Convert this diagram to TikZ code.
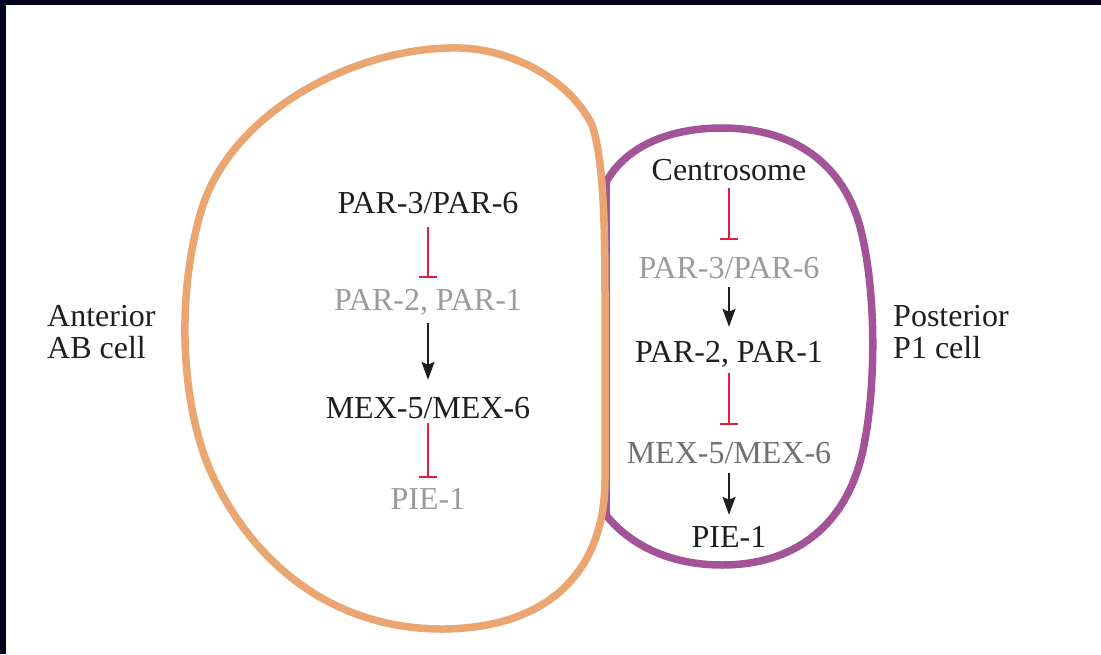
\documentclass[tikz,border=0pt]{standalone}
\usepackage{fontspec}
\setmainfont{Liberation Serif}
\newfontfamily\cellfont{Liberation Serif}
\usetikzlibrary{arrows.meta}
\definecolor{framecol}{RGB}{3,2,28}
\definecolor{abcol}{RGB}{235,165,113}
\definecolor{pcol}{RGB}{163,83,152}
\definecolor{inhib}{RGB}{228,30,62}
\definecolor{txtdark}{RGB}{30,30,30}
\definecolor{txtgray}{RGB}{155,155,155}
\definecolor{txtmid}{RGB}{112,112,112}
\tikzset{
  lbl/.style={inner sep=0pt, font=\cellfont\fontsize{32}{32}\selectfont, text height=21pt, text depth=0pt, anchor=base},
  on/.style={lbl, text=txtdark},
  off/.style={lbl, text=txtgray},
  offmid/.style={lbl, text=txtmid},
  side/.style={inner sep=0pt, font=\cellfont\fontsize{32}{32}\selectfont, text=txtdark, anchor=base west},
  inhibits/.style={draw=inhib, line width=2pt, -{Bar[width=18pt,line width=2pt]}, shorten <=10pt, shorten >=12pt},
  activates/.style={draw=txtdark, line width=1.5pt, -{Stealth[length=18pt,width=13pt,inset=3pt]}, shorten <=11pt, shorten >=14pt},
  cellwall/.style={line width=7.5pt}
}
\begin{document}
\begin{tikzpicture}[x=1pt,y=-1pt]
\useasboundingbox (0,0) rectangle (1101,654);
\fill[white] (0,0) rectangle (1101,654);
\fill[framecol] (0,0) rectangle (1101,5);
\fill[framecol] (0,0) rectangle (6,654);
% posterior P1 cell
\draw[pcol, cellwall] (606,182) .. controls (630,140) and (680,128) .. (722,128)
  .. controls (800,128) and (848,170) .. (862,235)
  .. controls (876,295) and (876,385) .. (864,445)
  .. controls (850,520) and (800,565) .. (722,565)
  .. controls (670,565) and (630,545) .. (606,515) -- cycle;
% anterior AB cell
\draw[abcol, cellwall] (450,48) .. controls (510,46) and (570,80) .. (592,125)
  .. controls (604,160) and (605,230) .. (605,300)
  -- (605,480)
  .. controls (605,560) and (560,627) .. (445,629)
  .. controls (330,630) and (250,560) .. (210,470)
  .. controls (180,400) and (176,290) .. (203,205)
  .. controls (235,112) and (350,50) .. (450,48) -- cycle;
% left column
\node[on] (l1) at (428,213) {PAR-3/PAR-6};
\node[off] (l2) at (428,310) {PAR-2, PAR-1};
\node[on] (l3) at (428,418) {MEX-5/MEX-6};
\node[off] (l4) at (428,509) {PIE-1};
\draw[inhibits, shorten <=14pt, shorten >=11pt] (l1.south) -- (l2.north);
\draw[activates, shorten <=13pt, shorten >=17pt] (l2.south) -- (l3.north);
\draw[inhibits, shorten <=5pt, shorten >=10pt] (l3.south) -- (l4.north);
% right column
\node[on] (r1) at (729,180) {Centrosome};
\node[off] (r2) at (729,278) {PAR-3/PAR-6};
\node[on] (r3) at (729,362) {PAR-2, PAR-1};
\node[offmid] (r4) at (729,463) {MEX-5/MEX-6};
\node[on] (r5) at (729,547) {PIE-1};
\draw[inhibits, shorten <=8pt, shorten >=17pt] (r1.south) -- (r2.north);
\draw[activates, shorten <=9pt, shorten >=14pt] (r2.south) -- (r3.north);
\draw[inhibits, shorten <=11pt, shorten >=17pt] (r3.south) -- (r4.north);
\draw[activates, shorten <=10pt, shorten >=11pt] (r4.south) -- (r5.north);
% side labels
\node[side] (ant1) at (47,326) {Anterior};
\node[side] (ant2) at (47,358) {AB cell};
\node[side] (pos1) at (893,326) {Posterior};
\node[side] (pos2) at (893,358) {P1 cell};
\end{tikzpicture}
\end{document}
